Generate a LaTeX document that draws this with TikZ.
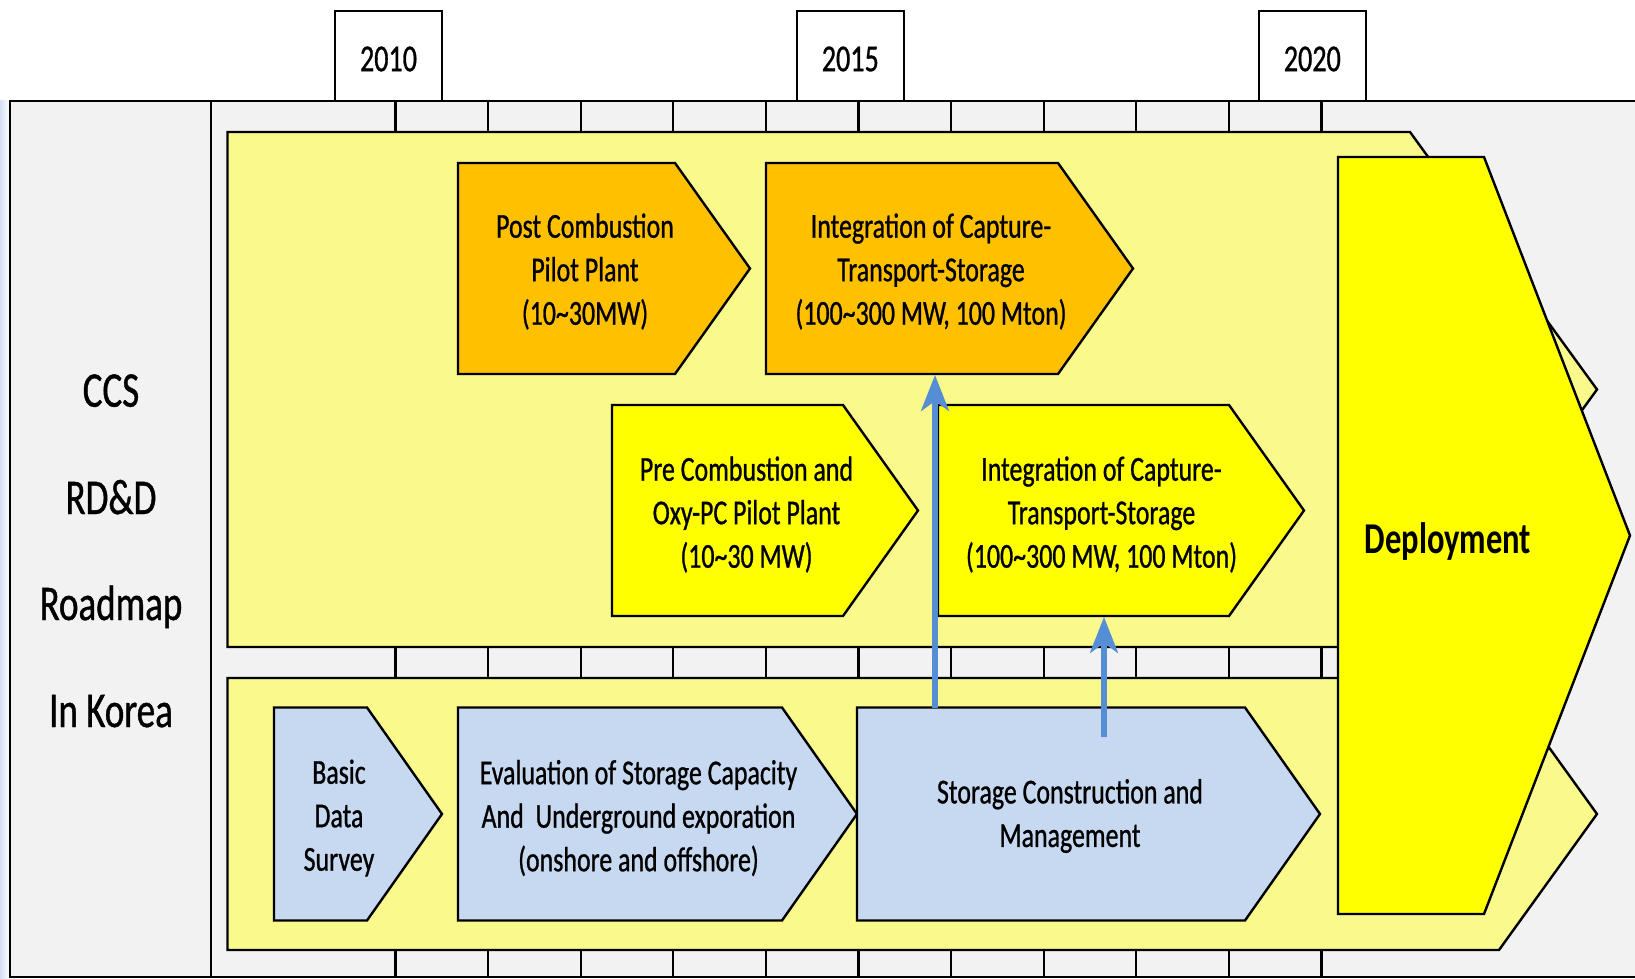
\documentclass[tikz,border=0pt]{standalone}
\usepackage{fontspec}
\setmainfont{Carlito}[FakeStretch=0.74, UprightFeatures={FakeBold=0.8}]
\usetikzlibrary{arrows.meta}
\definecolor{bggray}{HTML}{F2F2F2}
\definecolor{bandyel}{HTML}{FAF98C}
\definecolor{orangebox}{HTML}{FFC000}
\definecolor{yelbox}{HTML}{FFFF00}
\definecolor{bluebox}{HTML}{C6D9F1}
\definecolor{arrowblue}{HTML}{558ED5}
\definecolor{edgeblue}{HTML}{D6E0F5}
\begin{document}
\begin{tikzpicture}[x=0.5pt,y=-0.5pt,
  shapeline/.style={draw=black,line width=1.2pt,line join=miter},
  band/.style={shapeline,fill=bandyel},
  orangechev/.style={shapeline,fill=orangebox},
  yellowchev/.style={shapeline,fill=yelbox},
  bluechev/.style={shapeline,fill=bluebox},
  boxtext/.style={align=center,font=\fontsize{17.5}{21.75}\selectfont,inner sep=0pt},
  sidelabel/.style={font=\fontsize{25}{30}\selectfont,inner sep=0pt,anchor=base},
  yearbox/.style={draw=black,line width=1.2pt,fill=white,minimum width=53.5pt,minimum height=45pt,inner sep=0pt},
  yearlabel/.style={font=\fontsize{19}{23}\selectfont,inner sep=0pt},
  tickline/.style={draw=black,line width=1.1pt},
  linkarrow/.style={draw=arrowblue,fill=arrowblue,line width=2.6pt,-{Stealth[length=18pt,width=14pt,inset=5pt]}}
]
\useasboundingbox (0,0) rectangle (1635,979);
\clip (0,0) rectangle (1635,979);
% left fade
\shade[left color=edgeblue,right color=white] (0,101) rectangle (10,979);
% frame
\filldraw[fill=bggray,draw=black,line width=1.2pt] (10,101) rectangle (1645,977);
\draw[line width=1.2pt] (211,101) -- (211,977);
% ticks
\foreach \k in {0,...,10}{
  \draw[tickline] ({395.5+92.6*\k},101) -- ({395.5+92.6*\k},132);
  \draw[tickline] ({395.5+92.6*\k},647) -- ({395.5+92.6*\k},678);
  \draw[tickline] ({395.5+92.6*\k},950) -- ({395.5+92.6*\k},977);
}
% year boxes
\node[yearbox] (y2010) at (388.5,56) {};
\node[yearbox] (y2015) at (850.3,56) {};
\node[yearbox] (y2020) at (1312.3,56) {};
\node[yearlabel] (t2010) at ([yshift=-1.5pt]y2010.center) {2010};
\node[yearlabel] (t2015) at ([yshift=-1.5pt]y2015.center) {2015};
\node[yearlabel] (t2020) at ([yshift=-1.5pt]y2020.center) {2020};
% bands
\filldraw[band] (227.5,132) -- (1410,132) -- (1597,389.5) -- (1410,647) -- (227.5,647) -- cycle;
\filldraw[band] (227.5,678) -- (1499,678) -- (1597,814) -- (1499,950) -- (227.5,950) -- cycle;
% deployment
\filldraw[yellowchev] (1338,157) -- (1484,157) -- (1630,535.5) -- (1484,914) -- (1338,914) -- cycle;
% upper chevrons
\filldraw[orangechev] (458,163) -- (675,163) -- (750,268.5) -- (675,374) -- (458,374) -- cycle;
\filldraw[orangechev] (766,163) -- (1058,163) -- (1133,268.5) -- (1058,374) -- (766,374) -- cycle;
\filldraw[yellowchev] (612,405) -- (843,405) -- (918,510.5) -- (843,616) -- (612,616) -- cycle;
\filldraw[yellowchev] (938,405) -- (1229,405) -- (1304,510.5) -- (1229,616) -- (938,616) -- cycle;
% lower chevrons
\filldraw[bluechev] (274,707.5) -- (367,707.5) -- (442,814) -- (367,920.5) -- (274,920.5) -- cycle;
\filldraw[bluechev] (458,707.5) -- (782,707.5) -- (857,814) -- (782,920.5) -- (458,920.5) -- cycle;
\filldraw[bluechev] (857,707.5) -- (1245,707.5) -- (1320,814) -- (1245,920.5) -- (857,920.5) -- cycle;
% texts
\node[boxtext] (post) at (585,271.5) {Post Combustion\\Pilot Plant\\(10\textasciitilde30MW)};
\node[boxtext] (int1) at (931,271.5) {Integration of Capture-\\Transport-Storage\\(100\textasciitilde300 MW, 100 Mton)};
\node[boxtext] (pre) at (746.5,514.5) {Pre Combustion and\\Oxy-PC Pilot Plant\\(10\textasciitilde30 MW)};
\node[boxtext] (int2) at (1101.5,514.5) {Integration of Capture-\\Transport-Storage\\(100\textasciitilde300 MW, 100 Mton)};
\node[boxtext] (basic) at (339,818) {Basic\\Data\\Survey};
\node[boxtext] (eval) at (638.5,818) {Evaluation of Storage Capacity\\And\ \ Underground exporation\\(onshore and offshore)};
\node[boxtext] (stor) at (1070,816) {Storage Construction and\\Management};
\node[font=\fontsize{22}{26}\selectfont\bfseries,inner sep=0pt,anchor=base] (deploy) at (1448,553) {Deployment};
% side labels
\node[sidelabel] (ccs) at (111,406.7) {CCS};
\node[sidelabel] (rdd) at (111,514) {RD\&D};
\node[sidelabel] (road) at (111,620) {Roadmap};
\node[sidelabel] (korea) at (111,727) {In Korea};
% arrows
\coordinate (a1s) at (935,708);
\coordinate (a1e) at (935,375);
\coordinate (a2s) at (1104,737);
\coordinate (a2e) at (1104,617);
\draw[linkarrow] (a1s) -- (a1e);
\draw[linkarrow] (a2s) -- (a2e);
\end{tikzpicture}
\end{document}
